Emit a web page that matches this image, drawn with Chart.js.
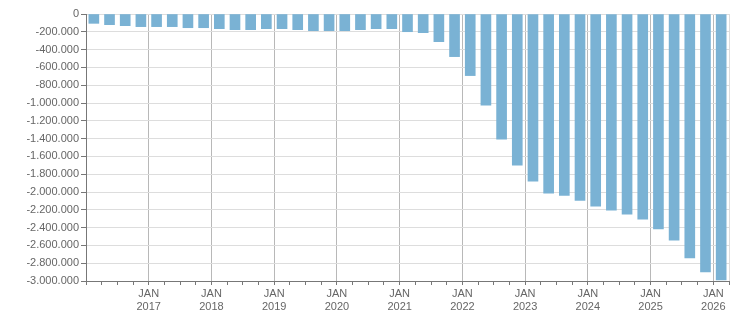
<!DOCTYPE html>
<html>
<head>
<meta charset="utf-8">
<script src="https://cdn.jsdelivr.net/npm/chart.js@4"></script>
<style>
  html, body { margin: 0; padding: 0; background: #fff; }
  #c { display: block; }
</style>
</head>
<body>
<canvas id="c" width="751" height="313"></canvas>
<script>
// Quarterly values, Q1 2016 .. Q1 2026
const quarters = [
  "2016 Q1","2016 Q2","2016 Q3","2016 Q4",
  "2017 Q1","2017 Q2","2017 Q3","2017 Q4",
  "2018 Q1","2018 Q2","2018 Q3","2018 Q4",
  "2019 Q1","2019 Q2","2019 Q3","2019 Q4",
  "2020 Q1","2020 Q2","2020 Q3","2020 Q4",
  "2021 Q1","2021 Q2","2021 Q3","2021 Q4",
  "2022 Q1","2022 Q2","2022 Q3","2022 Q4",
  "2023 Q1","2023 Q2","2023 Q3","2023 Q4",
  "2024 Q1","2024 Q2","2024 Q3","2024 Q4",
  "2025 Q1","2025 Q2","2025 Q3","2025 Q4",
  "2026 Q1"
];
const values = [
  -105000, -120000, -131000, -142000,
  -142000, -142000, -154000, -154000,
  -165000, -176000, -176000, -165000,
  -165000, -176000, -187000, -187000,
  -187000, -176000, -165000, -165000,
  -199000, -210000, -311000, -479000,
  -692000, -1025000, -1405000, -1698000,
  -1878000, -2014000, -2038000, -2094000,
  -2158000, -2203000, -2248000, -2304000,
  -2416000, -2540000, -2742000, -2899000,
  -2989000
];
const firstYear = 2016;
const yMin = -3000000, yMax = 0, yStep = 200000;

function fmt(v) {
  const s = Math.abs(Math.round(v)).toString().replace(/\B(?=(\d{3})+(?!\d))/g, ".");
  return (v < 0 ? "-" : "") + s;
}

const points = values.map((v, i) => ({ x: i + 0.5, y: v }));

new Chart(document.getElementById('c'), {
  type: 'bar',
  data: {
    datasets: [{
      label: 'Series',
      data: points,
      backgroundColor: '#7AB2D4',
      borderWidth: 0,
      barThickness: 10
    }]
  },
  options: {
    responsive: false,
    animation: false,
    devicePixelRatio: 1,
    layout: { padding: { left: 0, right: 22, top: 14, bottom: 0 } },
    plugins: { legend: { display: false }, tooltip: { enabled: false } },
    scales: {
      x: {
        type: 'linear',
        offset: false,
        min: 0,
        max: quarters.length,
        afterBuildTicks: (scale) => {
          const t = [];
          for (let i = 0; i <= quarters.length; i++) t.push({ value: i });
          scale.ticks = t;
        },
        afterFit: (scale) => { scale.height = 32; },
        ticks: {
          autoSkip: false,
          maxRotation: 0,
          padding: 2,
          color: '#666',
          font: { family: 'Liberation Sans, Arial, sans-serif', size: 11 },
          callback: (v) => (v % 4 === 0 && v > 0 && v < quarters.length) ? ['JAN', String(firstYear + v / 4)] : ''
        },
        grid: {
          offset: false,
          color: (ctx) => {
            const v = ctx.tick && ctx.tick.value;
            if (v === quarters.length) return '#dddddd';
            return (v % 4 === 0) ? '#b8b8b8' : 'rgba(0,0,0,0)';
          },
          tickColor: '#777',
          tickLength: 4,
          lineWidth: 1
        },
        border: { color: '#777', width: 1 }
      },
      y: {
        min: yMin,
        max: yMax,
        afterFit: (scale) => { scale.width = 86; },
        ticks: {
          stepSize: yStep,
          padding: 2,
          color: '#666',
          font: { family: 'Liberation Sans, Arial, sans-serif', size: 11 },
          callback: (v) => fmt(v)
        },
        grid: {
          color: '#dddddd',
          tickColor: '#777',
          tickLength: 5,
          lineWidth: 1
        },
        border: { color: '#777', width: 1 }
      }
    }
  }
});
</script>
</body>
</html>
